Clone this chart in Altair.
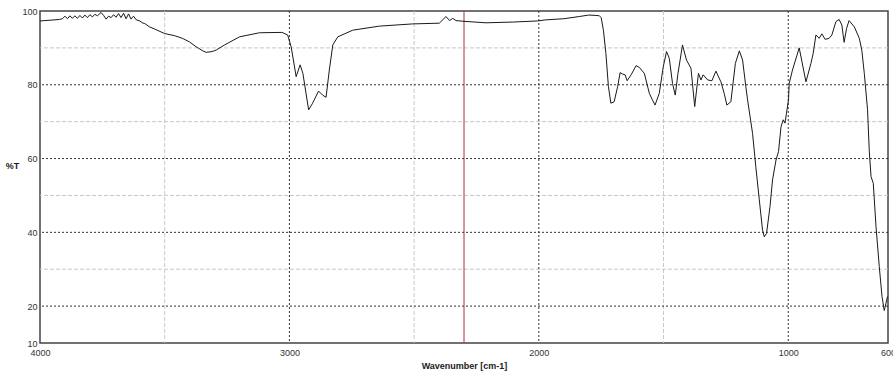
import altair as alt
import pandas as pd

# IR spectrum
wavenumber = [
    4000, 3922, 3910, 3900, 3890, 3880, 3870, 3860, 3850, 3840, 3830, 3820, 3810, 3800,
    3790, 3780, 3770, 3755, 3745, 3735, 3725, 3715, 3705, 3695, 3685, 3675, 3665, 3655,
    3645, 3635, 3625, 3614, 3600, 3590, 3580, 3561, 3540, 3501, 3460, 3429, 3400, 3374,
    3350, 3334, 3310, 3294, 3260, 3200, 3120, 3030, 3007, 2993, 2973, 2957, 2946, 2923,
    2907, 2883, 2867, 2853, 2840, 2826, 2806, 2746, 2639, 2506, 2399, 2372, 2358, 2345,
    2332, 2300, 2212, 2106, 2006, 1972, 1900, 1838, 1800, 1771, 1757, 1750, 1741, 1731,
    1721, 1711, 1698, 1684, 1674, 1664, 1654, 1646, 1630, 1610, 1597, 1577, 1557, 1546,
    1534, 1517, 1501, 1488, 1477, 1464, 1453, 1442, 1424, 1408, 1390, 1375, 1360, 1350,
    1341, 1323, 1306, 1290, 1270, 1257, 1246, 1230, 1212, 1196, 1183, 1170, 1163, 1143,
    1130, 1116, 1103, 1096, 1087, 1073, 1063, 1049, 1039, 1029, 1020, 1013, 1007, 999,
    996, 983, 956, 929, 909, 900, 889, 876, 865, 852, 836, 825, 809, 796, 785, 776, 766,
    756, 735, 715, 705, 695, 682, 675, 668, 659, 648, 635, 624, 615, 608, 602,
]
transmittance = [
    97.3, 97.7, 97.9, 98.6, 97.9, 98.7, 98.0, 98.7, 98.0, 98.8, 98.1, 98.9, 98.2, 99.0,
    98.4, 99.1, 98.7, 99.6, 98.8, 97.8, 98.6, 98.2, 99.0, 98.3, 99.3, 98.2, 99.4, 97.9,
    99.2, 97.8, 98.6, 97.6, 97.3, 96.8, 96.6, 95.7, 95.1, 93.9, 93.3, 92.6, 91.6, 90.3,
    89.3, 88.8, 89.0, 89.4, 90.8, 93.0, 94.1, 94.2, 93.5, 90.3, 82.2, 85.4, 83.1, 73.2,
    75.0, 78.3, 77.2, 76.6, 84.0, 90.8, 93.0, 94.8, 95.9, 96.5, 96.7, 98.5, 97.4, 98.0,
    97.4, 97.2, 96.8, 97.0, 97.3, 97.6, 97.9, 98.5, 98.9, 98.8, 98.7, 98.2, 94.8, 88.5,
    79.5, 75.0, 75.4, 79.5, 83.3, 82.9, 82.7, 81.1, 82.7, 85.2, 84.7, 83.1, 77.7, 76.1,
    74.5, 77.7, 84.9, 89.0, 87.2, 80.4, 77.2, 83.1, 90.8, 86.7, 84.5, 74.1, 83.1, 81.3,
    82.7, 81.3, 81.1, 83.7, 80.8, 77.7, 74.5, 75.4, 85.8, 89.2, 86.7, 79.5, 75.9, 66.8,
    57.8, 48.8, 40.6, 38.8, 39.7, 47.0, 54.2, 59.6, 61.9, 68.6, 70.5, 69.6, 72.3, 75.9,
    80.4, 84.0, 90.0, 80.8, 85.8, 88.5, 93.5, 92.6, 93.8, 92.3, 92.6, 93.5, 97.1, 97.7,
    96.2, 91.5, 95.3, 97.4, 95.7, 92.6, 89.4, 83.1, 73.2, 62.0, 55.1, 53.3, 41.5, 30.7,
    22.6, 18.8, 20.8, 22.6,
]

x_labels = [4000, 3000, 2000, 1000, 600]
y_labels = [10, 20, 40, 60, 80, 100]
major_x = [3000, 2000, 1000]
minor_x = [3500, 2500, 1500]
major_y = [20, 40, 60, 80]
minor_y = [30, 50, 70, 90]
marker_x = [2300]

spec = pd.DataFrame({"wn": wavenumber, "T": transmittance})

FONT = "Liberation Sans"
xscale = alt.Scale(domain=[4000, 600], nice=False, zero=False)
yscale = alt.Scale(domain=[10, 100], nice=False, zero=False)

x_enc = alt.X("wn:Q", scale=xscale,
              axis=alt.Axis(values=x_labels, format="d", grid=False, domain=False, ticks=False,
                            labelFont=FONT, labelFontSize=9, labelColor="#333", labelPadding=5,
                            labelFlush=False, labelOverlap=False,
                            title="Wavenumber [cm-1]", titleFont=FONT, titleFontSize=9,
                            titleFontWeight="bold", titleColor="#222", titleY=22,
                            titleBaseline="middle"))
y_enc = alt.Y("T:Q", scale=yscale,
              axis=alt.Axis(values=y_labels, format="d", grid=False, domain=False, ticks=False,
                            labelFont=FONT, labelFontSize=9, labelColor="#333", labelPadding=3,
                            labelFlush=False, labelOverlap=False,
                            title="%T", titleFont=FONT, titleFontSize=9, titleAngle=0,
                            titleColor="#222", titleX=-28, titleY=154, titleAlign="center",
                            titleBaseline="middle"))

line = alt.Chart(spec).transform_calculate(neg="-datum.wn").mark_line(
    color="#1a1a1a", strokeWidth=1).encode(x=x_enc, y=y_enc, order=alt.Order("neg:Q"))

def vrules(vals, color, dash, width=1):
    return alt.Chart(pd.DataFrame({"v": vals})).mark_rule(
        color=color, strokeDash=dash, strokeWidth=width).encode(
        x=alt.X("v:Q", scale=xscale))

def hrules(vals, color, dash, width=1):
    return alt.Chart(pd.DataFrame({"v": vals})).mark_rule(
        color=color, strokeDash=dash, strokeWidth=width).encode(
        y=alt.Y("v:Q", scale=yscale))

grid = (
    vrules(minor_x, "#c8c8c8", [4, 2]) + hrules(minor_y, "#c8c8c8", [4, 2])
    + vrules(major_x, "#333333", [2, 2]) + hrules(major_y, "#333333", [2, 2])
)
marker = alt.Chart(pd.DataFrame({"v": marker_x})).mark_rule(
    color="#a8323a", strokeWidth=1).encode(x=alt.X("v:Q", scale=xscale))

chart = alt.layer(grid, marker, line).properties(
    width=848, height=332,
    autosize=alt.AutoSizeParams(type="none"),
    padding={"left": 40, "top": 11, "right": 5, "bottom": 30},
    background="white",
).configure_view(stroke="#444444", strokeWidth=1.5)

chart.save("out.html", embed_options={"renderer": "svg", "actions": False})
